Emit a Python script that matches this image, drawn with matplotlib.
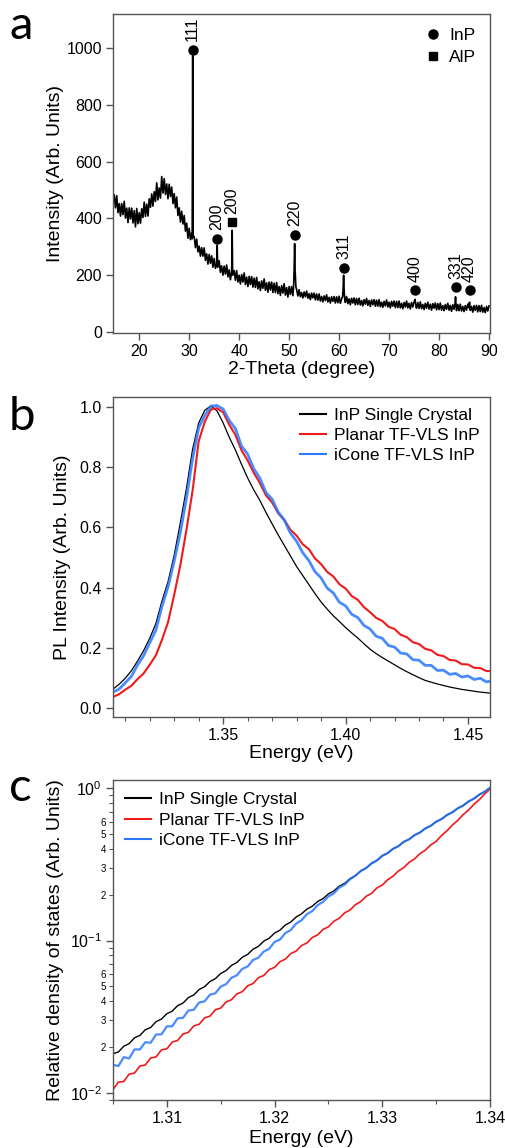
import numpy as np
import matplotlib
matplotlib.use("Agg")
import matplotlib.pyplot as plt
from matplotlib.ticker import MultipleLocator, LogLocator, FuncFormatter

plt.rcParams['font.family'] = ['Liberation Sans', 'DejaVu Sans']
plt.rcParams['mathtext.fontset'] = 'custom'
plt.rcParams['mathtext.rm'] = 'Liberation Sans'
plt.rcParams['mathtext.it'] = 'Liberation Sans:italic'

# ---------- panel a : XRD ----------
two_theta = [15.0, 15.25, 15.5, 15.75, 16.0, 16.25, 16.5, 16.75, 17.0, 17.25,
             17.5, 17.75, 18.0, 18.25, 18.5, 18.75, 19.0, 19.25, 19.5, 19.75,
             20.0, 20.25, 20.5, 20.75, 21.0, 21.25, 21.5, 21.75, 22.0, 22.25,
             22.5, 22.75, 23.0, 23.25, 23.5, 23.75, 24.0, 24.25, 24.5, 24.75,
             25.0, 25.25, 25.5, 25.75, 26.0, 26.25, 26.5, 26.75, 27.0, 27.25,
             27.5, 27.75, 28.0, 28.25, 28.5, 28.75, 29.0, 29.25, 29.5, 29.75,
             30.0, 30.25, 30.5, 30.6, 30.7, 30.8, 31.0, 31.25, 31.5, 31.75,
             32.0, 32.25, 32.5, 32.75, 33.0, 33.25, 33.5, 33.75, 34.0, 34.25,
             34.5, 34.75, 35.0, 35.25, 35.5, 35.6, 35.7, 36.0, 36.25, 36.5,
             36.75, 37.0, 37.25, 37.5, 37.75, 38.0, 38.25, 38.5, 38.6, 38.7,
             39.0, 39.25, 39.5, 39.75, 40.0, 40.25, 40.5, 40.75, 41.0, 41.25,
             41.5, 41.75, 42.0, 42.25, 42.5, 42.75, 43.0, 43.25, 43.5, 43.75,
             44.0, 44.25, 44.5, 44.75, 45.0, 45.25, 45.5, 45.75, 46.0, 46.25,
             46.5, 46.75, 47.0, 47.25, 47.5, 47.75, 48.0, 48.25, 48.5, 48.75,
             49.0, 49.25, 49.5, 49.75, 50.0, 50.25, 50.5, 50.75, 50.9, 51.0,
             51.1, 51.2, 51.35, 51.5, 51.75, 52.0, 52.25, 52.5, 52.75, 53.0,
             53.25, 53.5, 53.75, 54.0, 54.25, 54.5, 54.75, 55.0, 55.25, 55.5,
             55.75, 56.0, 56.25, 56.5, 56.75, 57.0, 57.25, 57.5, 57.75, 58.0,
             58.25, 58.5, 58.75, 59.0, 59.25, 59.5, 59.75, 60.0, 60.25, 60.5,
             60.7, 60.8, 60.9, 61.0, 61.1, 61.25, 61.5, 61.75, 62.0, 62.25,
             62.5, 62.75, 63.0, 63.25, 63.5, 63.75, 64.0, 64.25, 64.5, 64.75,
             65.0, 65.25, 65.5, 65.75, 66.0, 66.25, 66.5, 66.75, 67.0, 67.25,
             67.5, 67.75, 68.0, 68.25, 68.5, 68.75, 69.0, 69.25, 69.5, 69.75,
             70.0, 70.25, 70.5, 70.75, 71.0, 71.25, 71.5, 71.75, 72.0, 72.25,
             72.5, 72.75, 73.0, 73.25, 73.5, 73.75, 74.0, 74.25, 74.5, 74.75,
             75.0, 75.2, 75.4, 75.5, 75.75, 76.0, 76.25, 76.5, 76.75, 77.0,
             77.25, 77.5, 77.75, 78.0, 78.25, 78.5, 78.75, 79.0, 79.25, 79.5,
             79.75, 80.0, 80.25, 80.5, 80.75, 81.0, 81.25, 81.5, 81.75, 82.0,
             82.25, 82.5, 82.75, 83.0, 83.2, 83.3, 83.4, 83.5, 83.75, 84.0,
             84.25, 84.5, 84.75, 85.0, 85.25, 85.5, 85.75, 86.0, 86.1, 86.2,
             86.25, 86.5, 86.75, 87.0, 87.25, 87.5, 87.75, 88.0, 88.25, 88.5,
             88.75, 89.0, 89.25, 89.5, 89.75, 90.0]
intensity = [482, 437, 480, 420, 452, 408, 452, 413, 460, 401,
             436, 385, 437, 398, 436, 384, 427, 370, 435, 381,
             420, 383, 434, 403, 457, 407, 450, 408, 469, 439,
             486, 443, 494, 460, 525, 465, 507, 471, 547, 489,
             540, 484, 521, 469, 520, 477, 510, 452, 487, 437,
             475, 410, 437, 387, 425, 380, 410, 355, 383, 330,
             365, 325, 348, 328, 972, 335, 336, 297, 327, 282,
             302, 267, 297, 267, 296, 252, 275, 239, 273, 242,
             268, 228, 259, 224, 240, 305, 228, 251, 210, 233,
             200, 232, 204, 236, 194, 219, 184, 212, 358, 200,
             216, 182, 216, 176, 200, 169, 202, 176, 208, 167,
             193, 160, 196, 167, 195, 158, 190, 157, 192, 152,
             177, 146, 180, 154, 187, 147, 173, 140, 176, 148,
             176, 139, 172, 139, 174, 135, 160, 129, 163, 137,
             170, 130, 156, 123, 160, 132, 160, 128, 160, 220,
             311, 215, 160, 149, 127, 149, 124, 139, 120, 141,
             124, 144, 119, 135, 114, 137, 120, 137, 113, 134,
             112, 134, 109, 125, 106, 127, 111, 131, 106, 122,
             102, 124, 108, 125, 102, 124, 103, 126, 101, 117,
             125, 150, 200, 150, 118, 104, 125, 100, 117, 96,
             119, 102, 120, 96, 118, 97, 119, 95, 111, 92,
             114, 98, 118, 94, 111, 90, 113, 96, 114, 91,
             112, 91, 114, 89, 105, 87, 108, 92, 113, 88,
             105, 85, 108, 91, 109, 86, 108, 86, 109, 85,
             101, 82, 104, 88, 109, 85, 101, 81, 104, 88,
             106, 115, 88, 84, 104, 83, 106, 82, 97, 79,
             101, 84, 105, 81, 98, 77, 100, 84, 102, 78,
             100, 79, 102, 77, 93, 75, 97, 80, 101, 77,
             94, 73, 96, 80, 100, 124, 95, 75, 97, 75,
             98, 74, 90, 72, 93, 77, 98, 85, 105, 80,
             76, 90, 70, 93, 76, 94, 71, 93, 72, 94,
             70, 86, 68, 90, 74, 92]

inp_pos = [30.7, 35.6, 51.1, 60.9, 75.2, 83.3, 86.1]
inp_mark = [993, 329, 343, 226, 148, 159, 147]
inp_hkl = ['111', '200', '220', '311', '400', '331', '420']
alp_pos = [38.6]
alp_mark = [387]
alp_hkl = ['200']

# ---------- panel b : PL ----------
energy_b = [1.305, 1.3075, 1.31, 1.3125, 1.315, 1.3175, 1.32, 1.3225, 1.325, 1.3275,
            1.33, 1.3325, 1.335, 1.3375, 1.34, 1.3425, 1.345, 1.3475, 1.35, 1.3525,
            1.355, 1.3575, 1.36, 1.3625, 1.365, 1.3675, 1.37, 1.3725, 1.375, 1.3775,
            1.38, 1.3825, 1.385, 1.3875, 1.39, 1.3925, 1.395, 1.3975, 1.40, 1.4025,
            1.405, 1.4075, 1.41, 1.4125, 1.415, 1.4175, 1.42, 1.4225, 1.425, 1.4275,
            1.43, 1.4325, 1.435, 1.4375, 1.44, 1.4425, 1.445, 1.4475, 1.45, 1.4525,
            1.455, 1.4575, 1.46]
pl_single = [0.062, 0.078, 0.098, 0.123, 0.155, 0.19, 0.231, 0.28, 0.355, 0.42,
             0.508, 0.615, 0.73, 0.86, 0.948, 0.99, 1.005, 0.988, 0.948, 0.9,
             0.858, 0.81, 0.765, 0.725, 0.69, 0.65, 0.612, 0.575, 0.54, 0.505,
             0.47, 0.44, 0.41, 0.38, 0.352, 0.328, 0.306, 0.287, 0.267, 0.249,
             0.232, 0.213, 0.195, 0.18, 0.167, 0.155, 0.143, 0.131, 0.12, 0.11,
             0.1, 0.091, 0.085, 0.079, 0.074, 0.069, 0.065, 0.061, 0.058, 0.055,
             0.052, 0.05, 0.048]
pl_planar = [0.036, 0.045, 0.06, 0.073, 0.095, 0.114, 0.143, 0.174, 0.226, 0.285,
             0.376, 0.474, 0.592, 0.722, 0.887, 0.952, 0.993, 0.997, 0.983, 0.942,
             0.908, 0.857, 0.823, 0.782, 0.748, 0.707, 0.683, 0.647, 0.625, 0.592,
             0.573, 0.544, 0.528, 0.497, 0.478, 0.452, 0.437, 0.411, 0.397, 0.372,
             0.359, 0.335, 0.318, 0.299, 0.289, 0.27, 0.262, 0.243, 0.235, 0.218,
             0.212, 0.196, 0.191, 0.176, 0.172, 0.159, 0.157, 0.145, 0.144, 0.133,
             0.132, 0.122, 0.122]
pl_icone = [0.052, 0.062, 0.083, 0.104, 0.142, 0.173, 0.216, 0.258, 0.337, 0.403,
            0.488, 0.583, 0.697, 0.828, 0.932, 0.973, 1.004, 1.006, 0.994, 0.956,
            0.929, 0.871, 0.844, 0.796, 0.764, 0.716, 0.694, 0.651, 0.624, 0.581,
            0.554, 0.516, 0.49, 0.453, 0.432, 0.398, 0.382, 0.351, 0.339, 0.311,
            0.3, 0.274, 0.262, 0.238, 0.231, 0.207, 0.202, 0.182, 0.179, 0.16,
            0.158, 0.141, 0.141, 0.124, 0.125, 0.111, 0.114, 0.102, 0.106, 0.094,
            0.098, 0.086, 0.09]

# ---------- panel c : density of states (log10 values) ----------
energy_c = [1.305, 1.3055, 1.306, 1.3065, 1.307, 1.3075, 1.308, 1.3085, 1.309, 1.3095,
            1.31, 1.3105, 1.311, 1.3115, 1.312, 1.3125, 1.313, 1.3135, 1.314, 1.3145,
            1.315, 1.3155, 1.316, 1.3165, 1.317, 1.3175, 1.318, 1.3185, 1.319, 1.3195,
            1.32, 1.3205, 1.321, 1.3215, 1.322, 1.3225, 1.323, 1.3235, 1.324, 1.3245,
            1.325, 1.3255, 1.326, 1.3265, 1.327, 1.3275, 1.328, 1.3285, 1.329, 1.3295,
            1.33, 1.3305, 1.331, 1.3315, 1.332, 1.3325, 1.333, 1.3335, 1.334, 1.3345,
            1.335, 1.3355, 1.336, 1.3365, 1.337, 1.3375, 1.338, 1.3385, 1.339, 1.3395,
            1.34]
log_dos_single = [-1.742, -1.731, -1.693, -1.676, -1.638, -1.622, -1.585, -1.570, -1.532, -1.515,
                  -1.480, -1.463, -1.427, -1.410, -1.374, -1.357, -1.321, -1.303, -1.269, -1.250,
                  -1.216, -1.197, -1.163, -1.144, -1.110, -1.091, -1.057, -1.038, -1.004, -0.985,
                  -0.951, -0.932, -0.898, -0.879, -0.846, -0.825, -0.794, -0.775, -0.744, -0.725,
                  -0.694, -0.675, -0.644, -0.625, -0.594, -0.575, -0.544, -0.525, -0.494, -0.475,
                  -0.444, -0.427, -0.398, -0.381, -0.352, -0.336, -0.308, -0.292, -0.264, -0.248,
                  -0.220, -0.204, -0.177, -0.160, -0.133, -0.116, -0.088, -0.070, -0.044, -0.024,
                  0.0]
log_dos_planar = [-1.977, -1.929, -1.924, -1.876, -1.869, -1.823, -1.816, -1.770, -1.763, -1.717,
                  -1.710, -1.666, -1.655, -1.613, -1.602, -1.560, -1.549, -1.507, -1.496, -1.454,
                  -1.443, -1.403, -1.388, -1.350, -1.335, -1.297, -1.282, -1.244, -1.229, -1.191,
                  -1.176, -1.139, -1.122, -1.086, -1.069, -1.033, -1.016, -0.980, -0.963, -0.927,
                  -0.910, -0.874, -0.854, -0.819, -0.800, -0.765, -0.745, -0.710, -0.691, -0.655,
                  -0.636, -0.601, -0.578, -0.544, -0.521, -0.487, -0.464, -0.430, -0.407, -0.373,
                  -0.350, -0.311, -0.281, -0.243, -0.213, -0.175, -0.145, -0.107, -0.077, -0.039,
                  -0.007]
log_dos_icone = [-1.815, -1.823, -1.765, -1.773, -1.714, -1.714, -1.667, -1.670, -1.616, -1.615,
                 -1.563, -1.562, -1.510, -1.507, -1.459, -1.454, -1.406, -1.399, -1.355, -1.346,
                 -1.302, -1.286, -1.244, -1.228, -1.186, -1.170, -1.128, -1.112, -1.072, -1.054,
                 -1.009, -0.994, -0.951, -0.931, -0.889, -0.867, -0.827, -0.807, -0.768, -0.746,
                 -0.711, -0.691, -0.653, -0.634, -0.599, -0.575, -0.544, -0.525, -0.494, -0.475,
                 -0.444, -0.427, -0.398, -0.381, -0.352, -0.336, -0.309, -0.291, -0.265, -0.247,
                 -0.221, -0.203, -0.177, -0.159, -0.133, -0.115, -0.088, -0.070, -0.043, -0.024,
                 0.002]

labels = ['InP Single Crystal', 'Planar TF-VLS InP', 'iCone TF-VLS InP']
colors = ['#000000', '#f01a1a', '#2a78ff']

spine_col = '#555555'
tick_fs = 11.5
label_fs = 14
legend_fs = 12.5


def style_axes(ax):
    for s in ax.spines.values():
        s.set_color(spine_col)
        s.set_linewidth(1.0)
    ax.tick_params(which='major', direction='out', length=5, width=1.0,
                   color=spine_col, labelsize=tick_fs, pad=3)
    ax.tick_params(which='minor', direction='out', length=3, width=0.8,
                   color=spine_col)


fig = plt.figure(figsize=(5.06, 11.48), dpi=100)

# panel a
ax1 = fig.add_axes([0.2233, 0.7099, 0.7451, 0.2779])
ax1.plot(two_theta, intensity, color='black', lw=1.2)
ax1.plot(inp_pos, inp_mark, 'o', color='black', ms=6.5, label='InP')
ax1.plot(alp_pos, alp_mark, 's', color='black', ms=6, label='AlP')
for x, y, t in zip(inp_pos + alp_pos, inp_mark + alp_mark, inp_hkl + alp_hkl):
    ax1.annotate(t, (x, y), xytext=(0, 6), textcoords='offset points',
                 rotation=90, ha='center', va='bottom', fontsize=11.5)
ax1.set_xlim(14.75, 90.2)
ax1.set_ylim(-3.5, 1119)
ax1.xaxis.set_major_locator(MultipleLocator(10))
ax1.yaxis.set_major_locator(MultipleLocator(200))
ax1.set_xlabel('2-Theta (degree)', fontsize=label_fs, labelpad=1)
ax1.set_ylabel('Intensity (Arb. Units)', fontsize=label_fs, labelpad=2)
ax1.legend(loc='upper right', frameon=False, fontsize=legend_fs, handletextpad=0.3,
           labelspacing=0.4, borderaxespad=0.4, handlelength=1.2)
style_axes(ax1)

# panel b
ax2 = fig.add_axes([0.2233, 0.3754, 0.7451, 0.2787])
ax2.plot(energy_b, pl_single, color=colors[0], lw=0.9, label=labels[0])
ax2.plot(energy_b, pl_planar, color=colors[1], lw=1.5, label=labels[1])
ax2.plot(energy_b, pl_icone, color=colors[2], lw=2.0, alpha=0.85, label=labels[2])
ax2.set_xlim(1.305, 1.459)
ax2.set_ylim(-0.031, 1.034)
ax2.xaxis.set_major_locator(MultipleLocator(0.05))
ax2.xaxis.set_minor_locator(MultipleLocator(0.01))
ax2.yaxis.set_major_locator(MultipleLocator(0.2))
ax2.xaxis.set_major_formatter(FuncFormatter(lambda v, p: f'{v:.2f}'))
ax2.yaxis.set_major_formatter(FuncFormatter(lambda v, p: f'{v:.1f}'))
ax2.set_xlabel('Energy (eV)', fontsize=label_fs, labelpad=1)
ax2.set_ylabel('PL Intensity (Arb. Units)', fontsize=label_fs, labelpad=6)
leg = ax2.legend(loc='upper right', frameon=False, fontsize=legend_fs, handlelength=1.5,
                 handletextpad=0.45, labelspacing=0.3, borderaxespad=0.2)
for h in leg.get_lines():
    h.set_linewidth(1.5)
    h.set_alpha(1)
style_axes(ax2)

# panel c
ax3 = fig.add_axes([0.2233, 0.0418, 0.7451, 0.2787])
ax3.plot(energy_c, 10 ** np.array(log_dos_single), color=colors[0], lw=1.0, label=labels[0])
ax3.plot(energy_c, 10 ** np.array(log_dos_planar), color=colors[1], lw=1.2, label=labels[1])
ax3.plot(energy_c, 10 ** np.array(log_dos_icone), color=colors[2], lw=1.6, alpha=0.85, label=labels[2])
ax3.set_yscale('log')
ax3.set_xlim(1.305, 1.34)
ax3.set_ylim(0.009, 1.128)
ax3.xaxis.set_major_locator(MultipleLocator(0.01))
ax3.xaxis.set_minor_locator(MultipleLocator(0.005))
ax3.xaxis.set_major_formatter(FuncFormatter(lambda v, p: f'{v:.2f}'))
ax3.yaxis.set_major_locator(LogLocator(base=10))
ax3.yaxis.set_minor_locator(LogLocator(base=10, subs=[2, 3, 4, 5, 6, 7, 8, 9]))


def minor_lab(v, p):
    m = int(round(v / 10 ** np.floor(np.log10(v) + 1e-9)))
    return str(m) if m in (2, 3, 4, 5, 6) else ''


ax3.yaxis.set_minor_formatter(FuncFormatter(minor_lab))
ax3.set_xlabel('Energy (eV)', fontsize=label_fs, labelpad=3)
ax3.set_ylabel('Relative density of states (Arb. Units)', fontsize=label_fs, labelpad=4)
leg = ax3.legend(loc='upper left', frameon=False, fontsize=legend_fs, handlelength=1.5,
                 handletextpad=0.45, labelspacing=0.3, borderaxespad=0.3)
for h in leg.get_lines():
    h.set_linewidth(1.5)
    h.set_alpha(1)
style_axes(ax3)
ax3.tick_params(axis='y', which='minor', labelsize=7, pad=2)

# panel letters
for t, y in [('a', 0.966), ('b', 0.625), ('c', 0.302)]:
    fig.text(0.018, y, t, fontsize=34, family=['Lato', 'DejaVu Sans'], ha='left', va='baseline')

fig.savefig('out.png', dpi=100)
